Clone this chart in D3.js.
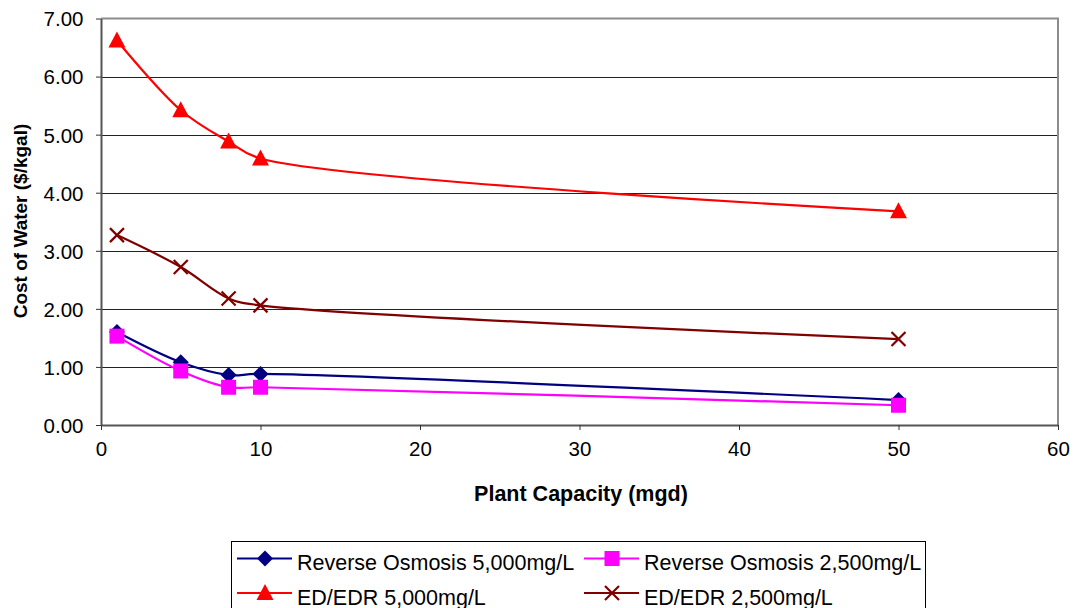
<!DOCTYPE html>
<html>
<head>
<meta charset="utf-8">
<script src="https://cdn.jsdelivr.net/npm/d3@7"></script>
<style>
  html, body { margin: 0; padding: 0; background: #fff; }
  svg { display: block; font-family: "Liberation Sans", Arial, sans-serif; }
</style>
</head>
<body>
<svg id="chart" width="1077" height="608"></svg>
<script>
// Plant capacity (mgd) and cost of water ($/kgal) per technology
const capacity = [1, 5, 8, 10, 50];
const ro5000  = [1.60, 1.08, 0.86, 0.88, 0.43];
const ro2500  = [1.53, 0.93, 0.65, 0.65, 0.34];
const edr5000 = [6.62, 5.42, 4.88, 4.59, 3.68];
const edr2500 = [3.27, 2.72, 2.18, 2.06, 1.48];

const xTicks = [0, 10, 20, 30, 40, 50, 60];
const yTicks = [0, 1, 2, 3, 4, 5, 6, 7];

const seriesNames = [
  "Reverse Osmosis 5,000mg/L",
  "Reverse Osmosis 2,500mg/L",
  "ED/EDR 5,000mg/L",
  "ED/EDR 2,500mg/L"
];

const series = [
  { name: seriesNames[0], values: ro5000,  color: "#000080", marker: "diamond" },
  { name: seriesNames[1], values: ro2500,  color: "#ff00ff", marker: "square" },
  { name: seriesNames[2], values: edr5000, color: "#ff0000", marker: "triangle" },
  { name: seriesNames[3], values: edr2500, color: "#800000", marker: "cross" }
];

const svg = d3.select("#chart");
const plot = { left: 101, top: 18.5, right: 1058, bottom: 425 };

const x = d3.scaleLinear().domain([0, 60]).range([plot.left, plot.right]);
const y = d3.scaleLinear().domain([0, 7]).range([plot.bottom, plot.top]);

// horizontal gridlines
svg.append("g")
  .selectAll("line")
  .data(yTicks.filter(d => d > 0 && d < 7))
  .join("line")
  .attr("x1", plot.left).attr("x2", plot.right)
  .attr("y1", d => Math.round(y(d)) + 0.5).attr("y2", d => Math.round(y(d)) + 0.5)
  .attr("stroke", "#222").attr("stroke-width", 1);

// plot frame (top and right)
svg.append("path")
  .attr("d", `M${plot.left},${plot.top}H${plot.right}V${plot.bottom}`)
  .attr("fill", "none").attr("stroke", "#8c8c8c").attr("stroke-width", 2);

// axes
const xAxis = svg.append("g")
  .attr("transform", `translate(0,${plot.bottom})`)
  .call(d3.axisBottom(x).tickValues(xTicks).tickSize(5).tickSizeOuter(0).tickPadding(11).tickFormat(d3.format("d")));
const yAxis = svg.append("g")
  .attr("transform", `translate(${plot.left},0)`)
  .call(d3.axisLeft(y).tickValues(yTicks).tickSize(5).tickSizeOuter(0).tickPadding(12.5).tickFormat(d3.format(".2f")));

[xAxis, yAxis].forEach(a => {
  a.select(".domain").attr("stroke", "#555").attr("stroke-width", 2);
  a.selectAll(".tick line").attr("stroke", "#333").attr("stroke-width", 1);
  a.selectAll(".tick text").attr("fill", "#000").style("font-size", "20.5px")
    .style("font-family", "'Liberation Sans', Arial, sans-serif");
});
yAxis.selectAll(".tick text").attr("dy", "0.36em");

// axis titles
svg.append("text")
  .attr("x", 581).attr("y", 501)
  .attr("text-anchor", "middle")
  .style("font-size", "21.5px").style("font-weight", "bold")
  .text("Plant Capacity (mgd)");

svg.append("text")
  .attr("transform", `translate(27,221) rotate(-90)`)
  .attr("text-anchor", "middle")
  .style("font-size", "19px").style("font-weight", "bold")
  .text("Cost of Water ($/kgal)");

// marker shapes
function markerPath(type) {
  switch (type) {
    case "diamond":  return "M0,-8L8,0L0,8L-8,0Z";
    case "square":   return "M-7.5,-7.5H7.5V7.5H-7.5Z";
    case "triangle": return "M0,-9L8.5,7H-8.5Z";
    case "cross":    return "M-7,-7L7,7M7,-7L-7,7";
  }
}
function drawMarker(g, type, color) {
  const p = g.append("path").attr("d", markerPath(type));
  if (type === "cross") p.attr("fill", "none").attr("stroke", color).attr("stroke-width", 2.2);
  else p.attr("fill", color);
}

const line = d3.line()
  .x(d => x(d[0]))
  .y(d => y(d[1]))
  .curve(d3.curveCatmullRom.alpha(0.5));

const seriesG = svg.append("g");
series.forEach(s => {
  const pts = capacity.map((c, i) => [c, s.values[i]]);
  seriesG.append("path")
    .datum(pts)
    .attr("d", line)
    .attr("fill", "none")
    .attr("stroke", s.color)
    .attr("stroke-width", 2.2);
  pts.forEach(p => {
    const g = seriesG.append("g").attr("transform", `translate(${x(p[0])},${y(p[1])})`);
    drawMarker(g, s.marker, s.color);
  });
});

// legend
const legend = svg.append("g");
legend.append("rect")
  .attr("x", 231.5).attr("y", 541.5).attr("width", 694).attr("height", 80)
  .attr("fill", "#fff").attr("stroke", "#000").attr("stroke-width", 1);

const cols = [237, 584];
const rows = [558.5, 593];
series.forEach((s, i) => {
  const cx = cols[i % 2], cy = rows[Math.floor(i / 2)];
  const g = legend.append("g").attr("transform", `translate(${cx},${cy})`);
  g.append("line").attr("x1", 0).attr("x2", 55).attr("y1", 0).attr("y2", 0)
    .attr("stroke", s.color).attr("stroke-width", 2.2);
  const m = g.append("g").attr("transform", "translate(28,0)");
  drawMarker(m, s.marker, s.color);
  g.append("text")
    .attr("x", 60).attr("y", 11.5)
    .style("font-size", "21.5px")
    .text(s.name);
});
</script>
</body>
</html>
